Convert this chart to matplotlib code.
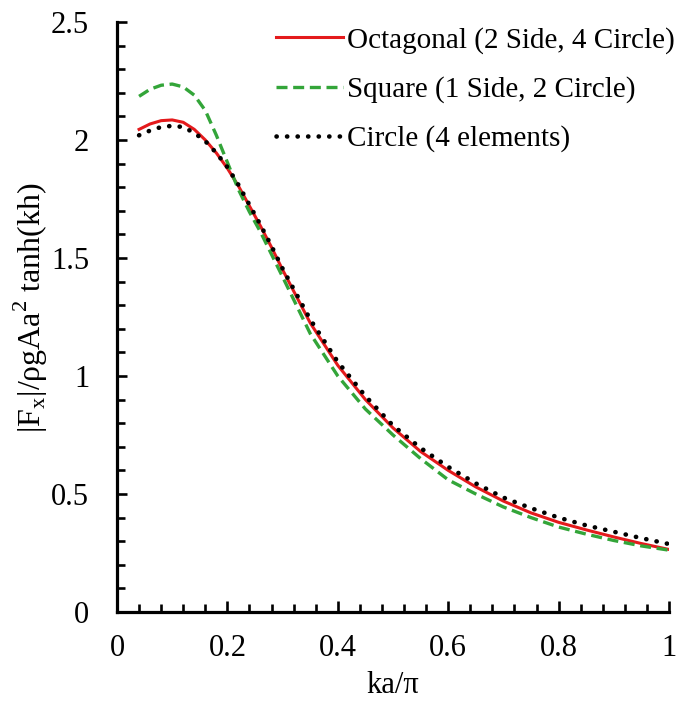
import matplotlib
matplotlib.use('Agg')
import matplotlib.pyplot as plt
from matplotlib.ticker import MultipleLocator

# ka/pi values where the three curves were read
ka_pi = [0.04, 0.06, 0.08, 0.10, 0.12, 0.14, 0.16, 0.18, 0.20, 0.22, 0.24,
         0.26, 0.28, 0.30, 0.35, 0.40, 0.45, 0.50, 0.55, 0.60, 0.65, 0.70,
         0.75, 0.80, 0.85, 0.90, 0.95, 1.00]

octagonal = [2.045, 2.068, 2.082, 2.085, 2.075, 2.045, 2.000, 1.945, 1.880,
             1.805, 1.720, 1.635, 1.545, 1.450, 1.225, 1.045, 0.900, 0.780,
             0.680, 0.600, 0.530, 0.470, 0.420, 0.380, 0.348, 0.318, 0.290,
             0.265]

square = [2.185, 2.215, 2.232, 2.237, 2.225, 2.190, 2.125, 2.020, 1.905,
          1.790, 1.695, 1.610, 1.515, 1.420, 1.180, 1.000, 0.860, 0.750,
          0.650, 0.560, 0.500, 0.445, 0.400, 0.360, 0.330, 0.303, 0.280,
          0.262]

circle = [2.020, 2.040, 2.055, 2.060, 2.055, 2.030, 1.995, 1.945, 1.885,
          1.810, 1.725, 1.640, 1.550, 1.455, 1.240, 1.060, 0.915, 0.790,
          0.695, 0.615, 0.545, 0.485, 0.440, 0.400, 0.367, 0.340, 0.313,
          0.288]

labels = ['Octagonal (2 Side, 4 Circle)', 'Square (1 Side, 2 Circle)',
          'Circle (4 elements)']

plt.rcParams['font.family'] = ['Liberation Serif', 'DejaVu Serif']
plt.rcParams['mathtext.fontset'] = 'custom'
plt.rcParams['mathtext.rm'] = 'Liberation Serif'

fig = plt.figure(figsize=(6.78, 7.04), dpi=100)
ax = fig.add_axes([117/678, 1 - 612/704, (669 - 117)/678, (612 - 22)/704])

ax.plot(ka_pi, octagonal, color='#e41a1c', lw=2.2, label=labels[0])
ax.plot(ka_pi, square, color='#33a539', lw=2.4, ls=(0, (3.3, 1.7)),
        label=labels[1])
ax.plot(ka_pi, circle, color='black', lw=3.3, ls=(0, (0.05, 2.25)),
        dash_capstyle='round', label=labels[2])

ax.set_xlim(0, 1)
ax.set_ylim(0, 2.5)
ax.xaxis.set_major_locator(MultipleLocator(0.2))
ax.xaxis.set_minor_locator(MultipleLocator(0.04))
ax.yaxis.set_major_locator(MultipleLocator(0.5))
ax.yaxis.set_minor_locator(MultipleLocator(0.1))
fmt = plt.FuncFormatter(lambda v, p: '%g' % round(v, 2))
ax.xaxis.set_major_formatter(fmt)
ax.yaxis.set_major_formatter(fmt)

for s in ['top', 'right']:
    ax.spines[s].set_visible(False)
for s in ['left', 'bottom']:
    ax.spines[s].set_linewidth(2.3)

ax.tick_params(axis='x', which='major', direction='in', length=8, width=1.9,
               labelsize=22, pad=16)
ax.tick_params(axis='x', which='minor', direction='in', length=6, width=1.9)
ax.tick_params(axis='y', which='major', direction='in', length=7, width=1.9,
               labelsize=22, pad=20)
ax.tick_params(axis='y', which='minor', direction='in', length=6, width=1.9)

ax.set_xlabel('ka/π', fontsize=22)
ax.xaxis.set_label_coords(0.5, -0.1)
ax.set_ylabel('|F$_\\mathrm{x}$|/ρgAa$^\\mathrm{2}$ tanh(kh)', fontsize=23)
ax.yaxis.set_label_coords(-0.122, 0.515)

fig.legend(loc='upper left', bbox_to_anchor=(276/678, 1 - 27/704),
           frameon=False, fontsize=21, handlelength=2.3, handletextpad=0.13,
           labelspacing=0.76, borderpad=0, borderaxespad=0)

fig.savefig('out.png', dpi=100)
